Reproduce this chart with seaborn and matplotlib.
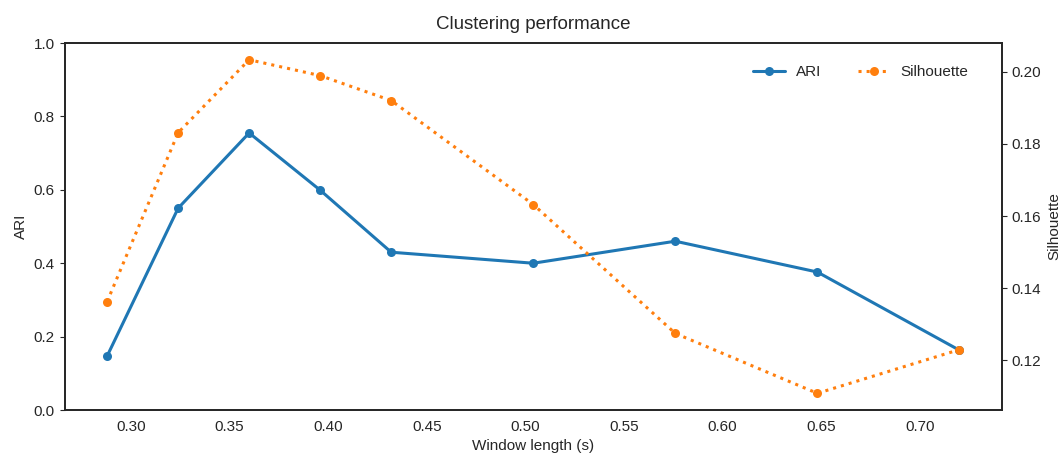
import matplotlib
matplotlib.use("Agg")
import matplotlib.pyplot as plt
from matplotlib.ticker import MultipleLocator, FormatStrFormatter
import seaborn as sns
import pandas as pd

# Window lengths (seconds) and clustering scores
window_length = [0.288, 0.324, 0.360, 0.396, 0.432, 0.504, 0.576, 0.648, 0.720]
ari = [0.147, 0.550, 0.755, 0.599, 0.430, 0.400, 0.460, 0.376, 0.163]
silhouette = [0.1363, 0.1831, 0.2033, 0.1989, 0.1920, 0.1632, 0.1275, 0.1109, 0.1230]

sns.set_style("white")
plt.rcParams["font.family"] = ["Liberation Sans", "DejaVu Sans"]

df = pd.DataFrame({"window": window_length, "ARI": ari, "Silhouette": silhouette})

fig, ax = plt.subplots(figsize=(10.63, 4.58), dpi=100)
fig.subplots_adjust(left=0.0607, right=0.9426, bottom=0.1048, top=0.906)

blue = "#1f77b4"
orange = "#ff7f0e"
fs = 11

sns.lineplot(data=df, x="window", y="ARI", ax=ax, color=blue, linewidth=2.2,
             marker="o", markersize=6.5, markeredgewidth=0, label="ARI", legend=False)
ax.set_ylim(0, 1.0)
ax.xaxis.set_major_locator(MultipleLocator(0.05))
ax.xaxis.set_major_formatter(FormatStrFormatter("%.2f"))
ax.set_xlabel("Window length (s)", fontsize=fs)
ax.set_ylabel("ARI", fontsize=fs)
ax.tick_params(labelsize=fs)

ax2 = ax.twinx()
sns.lineplot(data=df, x="window", y="Silhouette", ax=ax2, color=orange, linewidth=2.2,
             linestyle=":", marker="o", markersize=6.5, markeredgewidth=0,
             label="Silhouette", legend=False)
ax2.set_ylabel("Silhouette", fontsize=fs)
ax2.tick_params(labelsize=fs)

for a in (ax, ax2):
    for s in a.spines.values():
        s.set_color(".15")
        s.set_linewidth(1.25)

h1, l1 = ax.get_legend_handles_labels()
h2, l2 = ax2.get_legend_handles_labels()
ax2.legend(h1 + h2, l1 + l2, loc="upper right", bbox_to_anchor=(0.971, 0.957),
           borderaxespad=0, ncol=2, frameon=False, fontsize=fs,
           handlelength=2.1, handletextpad=0.7, columnspacing=2.4)

ax.set_title("Clustering performance", fontsize=13.5, pad=10)

fig.savefig("out.png", dpi=100)
